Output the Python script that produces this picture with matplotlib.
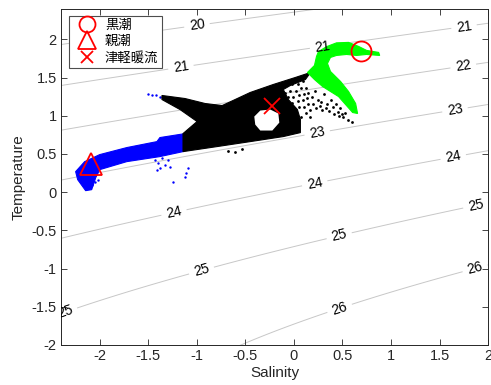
import numpy as np
import matplotlib
matplotlib.use("Agg")
import matplotlib.pyplot as plt

plt.rcParams['font.family'] = ['Liberation Sans', 'Noto Sans CJK JP', 'DejaVu Sans']
plt.rcParams['axes.unicode_minus'] = False

# --- standardised T-S data ---
# dense black cloud outline (salinity, temperature)
black_s = [-1.359, -1.121, -0.915, -0.739, -0.605, -0.450, -0.212, 0.016, 0.171,
           0.119, -0.036, -0.109, -0.057, 0.036, 0.067, 0.067, -0.109, -0.450,
           -0.791, -1.142, -1.142, -0.997, -1.173, -1.359]
black_t = [1.266, 1.226, 1.161, 1.134, 1.213, 1.305, 1.410, 1.502, 1.567,
           1.475, 1.397, 1.344, 1.213, 1.082, 0.951, 0.780, 0.728, 0.662,
           0.597, 0.531, 0.767, 0.925, 1.082, 1.213]
# empty pocket inside the black cloud
hole_s = [-0.398, -0.408, -0.346, -0.243, -0.160, -0.150, -0.222, -0.346]
hole_t = [0.885, 0.990, 1.069, 1.082, 1.030, 0.911, 0.807, 0.807]
# sparse black points around the cloud
black_pts_s = [-0.12, -0.07, -0.02, 0.04, 0.09, -0.09, -0.04, 0.02, 0.07, 0.12,
               -0.06, -0.01, 0.05, 0.10, 0.15, -0.02, 0.04, 0.09, 0.14, 0.19,
               0.05, 0.10, 0.15, 0.20, 0.12, 0.17, 0.23, 0.27, 0.25, 0.29,
               0.36, 0.41, 0.46, 0.51, 0.56, 0.60, 0.53, 0.48, 0.43, 0.38,
               0.07, 0.02, 0.17, -0.68, -0.61, -0.53,
               0.22, 0.31, 0.34, 0.28, 0.33, 0.40, 0.45, 0.50]
black_pts_t = [1.37, 1.40, 1.41, 1.42, 1.45, 1.30, 1.32, 1.33, 1.36, 1.37,
               1.24, 1.25, 1.27, 1.29, 1.30, 1.17, 1.19, 1.21, 1.23, 1.25,
               1.11, 1.12, 1.15, 1.16, 1.04, 1.07, 1.10, 1.13, 1.21, 1.08,
               1.06, 1.03, 1.00, 0.98, 0.95, 0.92, 1.04, 1.10, 1.16, 1.21,
               0.99, 1.06, 0.98, 0.54, 0.53, 0.56,
               1.32, 1.28, 1.15, 1.18, 1.10, 1.12, 1.05, 1.02]

# blue (Oyashio side) cloud outline
blue_s = [-2.248, -2.155, -2.000, -1.721, -1.411, -1.380, -1.121, -1.142, -1.380,
          -1.721, -2.000, -2.041, -2.083, -2.145, -2.227]
blue_t = [0.269, 0.400, 0.492, 0.584, 0.662, 0.715, 0.767, 0.531, 0.466,
          0.400, 0.295, 0.190, 0.033, 0.020, 0.164]
blue_pts_s = [-1.432, -1.401, -1.359, -1.328, -1.297, -1.380, -1.276, -1.411,
              -1.245, -1.121, -1.090, -1.111, -2.083, -2.052, -2.021, -2.124,
              -1.504, -1.463, -1.421, -1.380, -1.338]
blue_pts_t = [0.426, 0.387, 0.452, 0.361, 0.426, 0.321, 0.334, 0.295,
              0.138, 0.203, 0.321, 0.256, 0.098, 0.138, 0.164, 0.085,
              1.279, 1.266, 1.266, 1.252, 1.252]

# green (Kuroshio side) cloud outline
green_s = [0.140, 0.212, 0.233, 0.253, 0.336, 0.439, 0.563, 0.667, 0.749, 0.873,
           0.884, 0.749, 0.646, 0.543, 0.439, 0.377, 0.346, 0.377, 0.481, 0.563,
           0.636, 0.656, 0.605, 0.532, 0.460, 0.377, 0.295, 0.212]
green_t = [1.567, 1.659, 1.777, 1.840, 1.905, 1.955, 1.961, 1.908, 1.856, 1.830,
           1.790, 1.803, 1.790, 1.803, 1.790, 1.764, 1.685, 1.580, 1.449, 1.318,
           1.161, 1.030, 1.043, 1.148, 1.252, 1.318, 1.384, 1.475]

# water mass reference points
mass_names = ['黒潮', '親潮', '津軽暖流']
mass_s = [0.687, -2.093, -0.222]
mass_t = [1.843, 0.374, 1.134]
mass_markers = ['o', '^', 'x']
mass_sizes = [14.4, 16.5, 11]

# scaling used to map standardised values back to S / T for sigma-t
S_MEAN, S_STD = 33.2, 0.47
T_MEAN, T_STD = 17.2, 5.9
sigma_levels = [20, 21, 22, 23, 24, 25, 26]
label_spots = [(-1.0, 2.2), (-1.17, 1.69), (0.29, 1.96), (1.75, 2.19),
               (1.74, 1.69), (0.23, 0.85), (1.65, 1.15),
               (-1.25, -0.18), (0.2, 0.21), (1.63, 0.54),
               (-2.38, -1.49), (-0.97, -0.94), (0.45, -0.48), (1.86, -0.09),
               (0.45, -1.44), (1.85, -0.92)]


def sigma_t(S, T):
    # UNESCO 1980 equation of state at the surface
    rho_w = (999.842594 + 6.793952e-2 * T - 9.095290e-3 * T**2 + 1.001685e-4 * T**3
             - 1.120083e-6 * T**4 + 6.536332e-9 * T**5)
    A = 0.824493 - 4.0899e-3 * T + 7.6438e-5 * T**2 - 8.2467e-7 * T**3 + 5.3875e-9 * T**4
    B = -5.72466e-3 + 1.0227e-4 * T - 1.6546e-6 * T**2
    C = 4.8314e-4
    return rho_w + A * S + B * S**1.5 + C * S**2 - 1000.0


fig = plt.figure(figsize=(4.91, 3.85), dpi=100)
ax = fig.add_axes([0.124, 0.104, 0.870, 0.873])

gx, gy = np.meshgrid(np.linspace(-2.6, 2.2, 300), np.linspace(-2.2, 2.6, 300))
sig = sigma_t(S_MEAN + S_STD * gx, T_MEAN + T_STD * gy)
cs = ax.contour(gx, gy, sig, levels=sigma_levels, colors=[(0.78, 0.78, 0.78)],
                linewidths=0.7, zorder=1)
ax.clabel(cs, manual=label_spots, inline=True, fmt='%d', fontsize=10,
          colors='k', inline_spacing=4)

ax.fill(blue_s, blue_t, color='b', lw=0.8, zorder=2)
ax.scatter(blue_pts_s, blue_pts_t, s=3, color='b', lw=0, zorder=2)
ax.fill(black_s, black_t, color='k', lw=0.8, zorder=2.2)
ax.fill(hole_s, hole_t, color='w', lw=0, zorder=2.3)
ax.scatter(black_pts_s, black_pts_t, s=4, color='k', lw=0, zorder=2.3)
ax.fill(green_s, green_t, color=(0, 1, 0), lw=0.8, zorder=2.5)

for name, s, t, m, ms in zip(mass_names, mass_s, mass_t, mass_markers, mass_sizes):
    ax.plot(s, t, m, ms=ms, mfc='none', mec='r', mew=1.3, color='r',
            label=name, zorder=5)

leg = ax.legend(loc='upper left', bbox_to_anchor=(0.019, 0.979), borderaxespad=0,
                fancybox=False, edgecolor=(0.3, 0.3, 0.3), framealpha=1,
                fontsize=9.6, labelspacing=0.3, handlelength=2.2,
                handletextpad=0.25, borderpad=0.25, markerscale=0.8)
leg.get_frame().set_linewidth(0.8)

ax.set_xlim(-2.4, 2)
ax.set_ylim(-2, 2.4)
ax.set_xticks([-2, -1.5, -1, -0.5, 0, 0.5, 1, 1.5, 2])
ax.set_xticklabels(['-2', '-1.5', '-1', '-0.5', '0', '0.5', '1', '1.5', '2'])
ax.set_yticks([-2, -1.5, -1, -0.5, 0, 0.5, 1, 1.5, 2])
ax.set_yticklabels(['-2', '-1.5', '-1', '-0.5', '0', '0.5', '1', '1.5', '2'])
ax.tick_params(direction='in', top=True, right=True, length=4, width=0.6,
               labelsize=10.5, colors=(0.15, 0.15, 0.15), pad=3)
for sp in ax.spines.values():
    sp.set_linewidth(0.7)
    sp.set_color((0.15, 0.15, 0.15))
ax.set_xlabel('Salinity', fontsize=11, color=(0.15, 0.15, 0.15), labelpad=2)
ax.set_ylabel('Temperature', fontsize=11, color=(0.15, 0.15, 0.15), labelpad=4)

fig.savefig('out.png', dpi=100)
